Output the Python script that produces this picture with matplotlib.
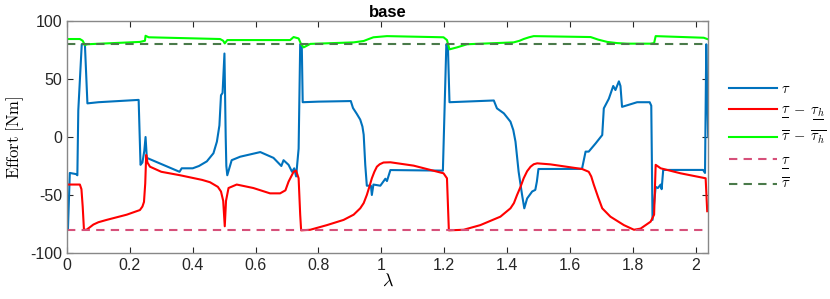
import numpy as np
import matplotlib
matplotlib.use("Agg")
import matplotlib.pyplot as plt
from matplotlib.ticker import FuncFormatter

plt.rcParams['font.family'] = ['Liberation Sans', 'DejaVu Sans']
plt.rcParams['mathtext.fontset'] = 'cm'
plt.rcParams['axes.unicode_minus'] = False

# tau
tau_x = [0.003, 0.009, 0.029, 0.033, 0.036, 0.047, 0.057, 0.065, 0.10, 0.228,
         0.234, 0.240, 0.246, 0.250, 0.254, 0.358, 0.365, 0.40, 0.420, 0.445,
         0.466, 0.477, 0.485, 0.490, 0.495, 0.501, 0.505, 0.507, 0.510, 0.524,
         0.551, 0.615, 0.657, 0.682, 0.689, 0.705, 0.716, 0.723, 0.729, 0.737,
         0.742, 0.747, 0.750, 0.80, 0.903, 0.910, 0.922, 0.933, 0.940, 0.944,
         0.949, 0.954, 0.967, 0.970, 0.975, 0.997, 1.013, 1.018, 1.029, 1.196,
         1.207, 1.212, 1.217, 1.358, 1.368, 1.390, 1.411, 1.420, 1.427, 1.437,
         1.448, 1.455, 1.464, 1.480, 1.490, 1.495, 1.500, 1.634, 1.639, 1.650,
         1.660, 1.682, 1.703, 1.708, 1.724, 1.738, 1.745, 1.756, 1.761, 1.766,
         1.814, 1.854, 1.859, 1.863, 1.873, 1.880, 1.889, 1.892, 1.897, 2.024,
         2.030, 2.034, 2.037, 2.040]
tau_y = [-80, -31, -32, -33, 23, 80, 80, 29, 30, 32,
         -24, -22, -12, 0, -18, -30, -27, -27, -25, -21,
         -14, -4, 10, 36, 38, 72, 0, -25, -33, -20,
         -17, -13, -18, -25, -20, -24, -30, -27, -34, -10,
         80, 80, 30, 30.5, 31, 25, 20, 15, 9, 2,
         -24, -42, -42, -50, -41, -42, -36, -38, -28.5, -29,
         80, 78, 30, 31.5, 24.7, 20.4, 13.2, 6, -4, -30,
         -50, -61.5, -53, -47, -45.6, -38.5, -27.6, -27.5, -27, -12.6,
         -12.6, -5.5, 1.7, 24.7, 33, 44, 40.5, 48, 44, 26,
         30, 30, 27, -71.5, -43, -44, -41, -45, -28.4, -28.4,
         -31, 80, 40, 0]

# lower bound minus hold torque
low_x = [0.0, 0.041, 0.046, 0.050, 0.054, 0.062, 0.072, 0.084, 0.10, 0.126,
         0.19, 0.232, 0.240, 0.245, 0.249, 0.252, 0.256, 0.264, 0.30, 0.36,
         0.43, 0.455, 0.480, 0.490, 0.497, 0.502, 0.506, 0.514, 0.54, 0.593,
         0.646, 0.678, 0.695, 0.705, 0.721, 0.729, 0.737, 0.742, 0.745, 0.774,
         0.827, 0.88, 0.912, 0.933, 0.944, 0.954, 0.962, 0.970, 0.978, 0.986,
         0.995, 1.007, 1.029, 1.103, 1.198, 1.209, 1.215, 1.262, 1.315, 1.379,
         1.411, 1.422, 1.432, 1.443, 1.453, 1.464, 1.475, 1.485, 1.496, 1.538,
         1.639, 1.660, 1.668, 1.676, 1.690, 1.703, 1.729, 1.772, 1.804, 1.825,
         1.857, 1.868, 1.873, 1.889, 1.952, 2.032, 2.037]
low_y = [-41, -41, -45, -60, -80, -80, -78, -75.5, -73.5, -71.5,
         -67, -63, -60, -56, -40, -15.5, -22, -25.6, -30, -33,
         -37, -39, -43, -47, -55, -77, -55, -44, -41, -44,
         -48.6, -48.6, -46, -38.5, -30, -29, -35.6, -67, -80.5, -80,
         -76, -71.5, -67, -61.5, -57, -50, -43, -35.6, -30, -25.6,
         -23.5, -22, -21.8, -24.7, -31.3, -35.6, -80.5, -80, -76, -68.7,
         -61.5, -57, -50, -43, -35.6, -29.5, -25.6, -23.5, -22.7, -23.6,
         -27.6, -30, -34, -41, -52, -61.5, -68.7, -76, -80, -79,
         -73, -67, -24, -27, -31.3, -35.6, -64]

# upper bound minus hold torque
up_x = [0.0, 0.041, 0.050, 0.057, 0.065, 0.232, 0.248, 0.250, 0.260, 0.487,
        0.497, 0.502, 0.510, 0.710, 0.721, 0.737, 0.745, 0.753, 0.774, 0.912,
        0.944, 0.960, 0.975, 1.018, 1.198, 1.209, 1.217, 1.241, 1.273, 1.421,
        1.440, 1.453, 1.470, 1.485, 1.666, 1.690, 1.719, 1.750, 1.782, 1.857,
        1.868, 1.873, 2.026, 2.037]
up_y = [84.5, 84.5, 83, 79.3, 80, 82, 83, 87.3, 86, 84.5,
        83, 80.7, 83.6, 83.6, 86.2, 85, 80, 77.3, 80.3, 81.6,
        82.8, 84.5, 86, 87, 86, 83.6, 75.6, 77.3, 80, 81.6,
        83, 84.5, 86, 87, 86.2, 84, 82, 81, 80.5, 80.5,
        81, 87, 85.6, 84.5]

tau_min = -80
tau_max = 80
x_end = 2.04

fig = plt.figure(figsize=(8.3, 2.99), dpi=100)
ax = fig.add_axes([0.0807, 0.154, 0.7725, 0.7756])

# mathtext has no \underline, so a bar is put under with \underset
lo = r'\underset{\overline{\ \ }}{\tau}'
lo_h = r'\underset{\overline{\ \ \ }}{\tau_h}'
ax.plot(tau_x, tau_y, color='#0072BD', lw=1.5, label=r'$\tau$')
ax.plot(low_x, low_y, color='#FF0000', lw=1.5,
        label='$' + lo + r'\;-\;' + lo_h + '$')
ax.plot(up_x, up_y, color='#00FF00', lw=1.5,
        label=r'$\overline{\tau}\;-\;\overline{\tau_h}$')
ax.plot([0, x_end], [tau_min, tau_min], color='#D6507A', lw=1.5,
        ls=(0, (4, 3)), label='$' + lo + '$')
ax.plot([0, x_end], [tau_max, tau_max], color='#4A7A4A', lw=1.5,
        ls=(0, (4, 3)), label=r'$\overline{\tau}$')

ax.set_xlim(0, x_end)
ax.set_ylim(-100, 100)
ax.set_xticks(np.arange(0, 2.01, 0.2))
ax.set_yticks([-100, -50, 0, 50, 100])
ax.xaxis.set_major_formatter(FuncFormatter(lambda v, p: '%g' % round(v, 2)))
ax.tick_params(direction='in', top=True, right=True, labelsize=11.5,
               colors='#262626', length=4, width=0.8)
for s in ax.spines.values():
    s.set_color('#888888')
    s.set_linewidth(1.0)

ax.set_title('base', fontsize=12, fontweight='bold', pad=3)
ax.set_xlabel(r'$\lambda$', fontsize=13, labelpad=0)
ax.set_ylabel(r'$\mathrm{Effort\ [Nm]}$', fontsize=12, labelpad=3)

ax.legend(loc='center left', bbox_to_anchor=(1.0, 0.5), frameon=False,
          handlelength=3.3, handletextpad=0.3, labelspacing=0.45, fontsize=10.5,
          borderaxespad=1.0)

fig.savefig('out.png', dpi=100)
